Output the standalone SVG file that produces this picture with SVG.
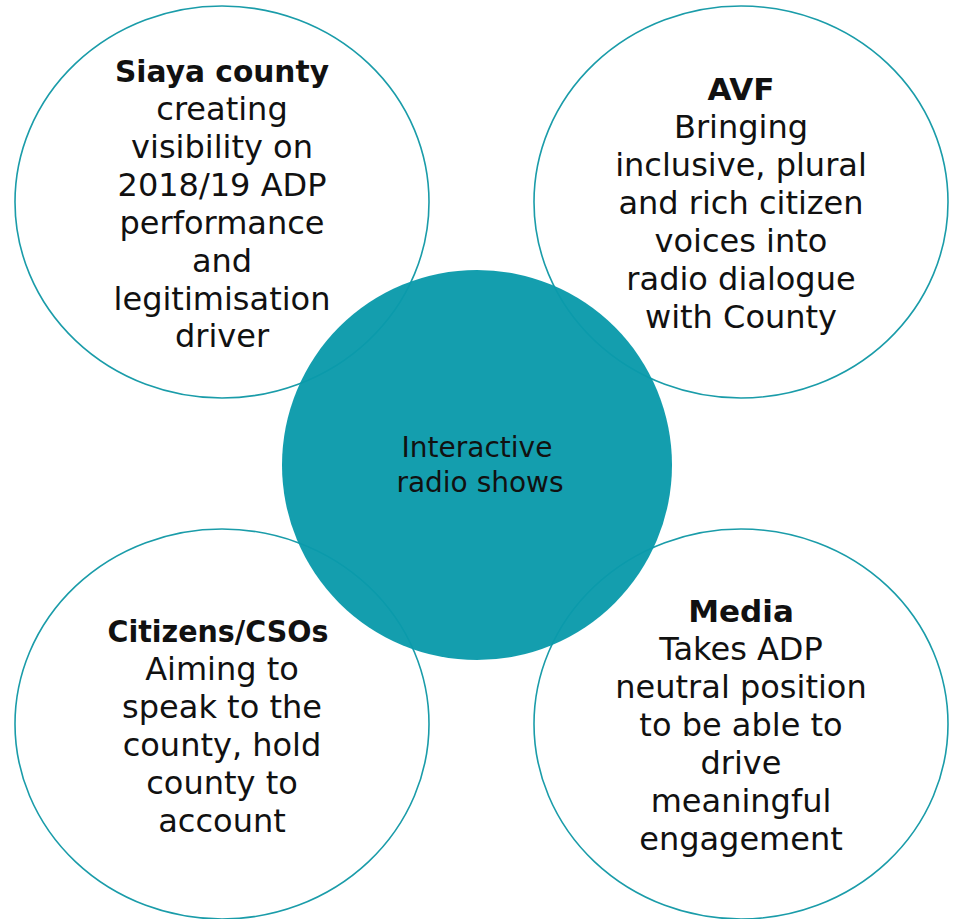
<svg xmlns="http://www.w3.org/2000/svg" width="954" height="919" viewBox="0 0 954 919">
<style>
.ring{fill:#ffffff;stroke:#1a9ca9;stroke-width:1.6}
.hub{fill:#0a9aab;fill-opacity:0.96}
text{font-family:"DejaVu Sans","Liberation Sans",sans-serif;fill:#111;text-anchor:middle}
.b{font-weight:bold;font-size:31px}
.r{font-size:32px}
.c{font-size:28px}
</style>
<rect width="954" height="919" fill="#ffffff"/>
<g id="connectors"></g>
<g id="node-siaya">
<ellipse class="ring" cx="222" cy="202" rx="207" ry="196"/>
<text class="b" x="222" y="82" textLength="214" lengthAdjust="spacingAndGlyphs">Siaya county</text>
<text class="r" x="222" y="120">creating</text>
<text class="r" x="222" y="158">visibility on</text>
<text class="r" x="222" y="196">2018/19 ADP</text>
<text class="r" x="222" y="234">performance</text>
<text class="r" x="222" y="272">and</text>
<text class="r" x="222" y="310">legitimisation</text>
<text class="r" x="222" y="347">driver</text>
</g>
<g id="node-avf">
<ellipse class="ring" cx="741" cy="202" rx="207" ry="196"/>
<text class="b" x="741" y="100">AVF</text>
<text class="r" x="741" y="138">Bringing</text>
<text class="r" x="741" y="176">inclusive, plural</text>
<text class="r" x="741" y="214">and rich citizen</text>
<text class="r" x="741" y="252">voices into</text>
<text class="r" x="741" y="290">radio dialogue</text>
<text class="r" x="741" y="328">with County</text>
</g>
<g id="node-citizens">
<ellipse class="ring" cx="222" cy="724" rx="207" ry="195"/>
<text class="b" x="218" y="642" textLength="221" lengthAdjust="spacingAndGlyphs">Citizens/CSOs</text>
<text class="r" x="222" y="680">Aiming to</text>
<text class="r" x="222" y="718">speak to the</text>
<text class="r" x="222" y="756">county, hold</text>
<text class="r" x="222" y="794">county to</text>
<text class="r" x="222" y="832">account</text>
</g>
<g id="node-media">
<ellipse class="ring" cx="741" cy="724" rx="207" ry="195"/>
<text class="b" x="741" y="622">Media</text>
<text class="r" x="741" y="660">Takes ADP</text>
<text class="r" x="741" y="698">neutral position</text>
<text class="r" x="741" y="736">to be able to</text>
<text class="r" x="741" y="774">drive</text>
<text class="r" x="741" y="812">meaningful</text>
<text class="r" x="741" y="850">engagement</text>
</g>
<g id="node-hub">
<circle class="hub" cx="477" cy="465" r="195"/>
<text class="c" x="477" y="457">Interactive</text>
<text class="c" x="480" y="492">radio shows</text>
</g>
</svg>
